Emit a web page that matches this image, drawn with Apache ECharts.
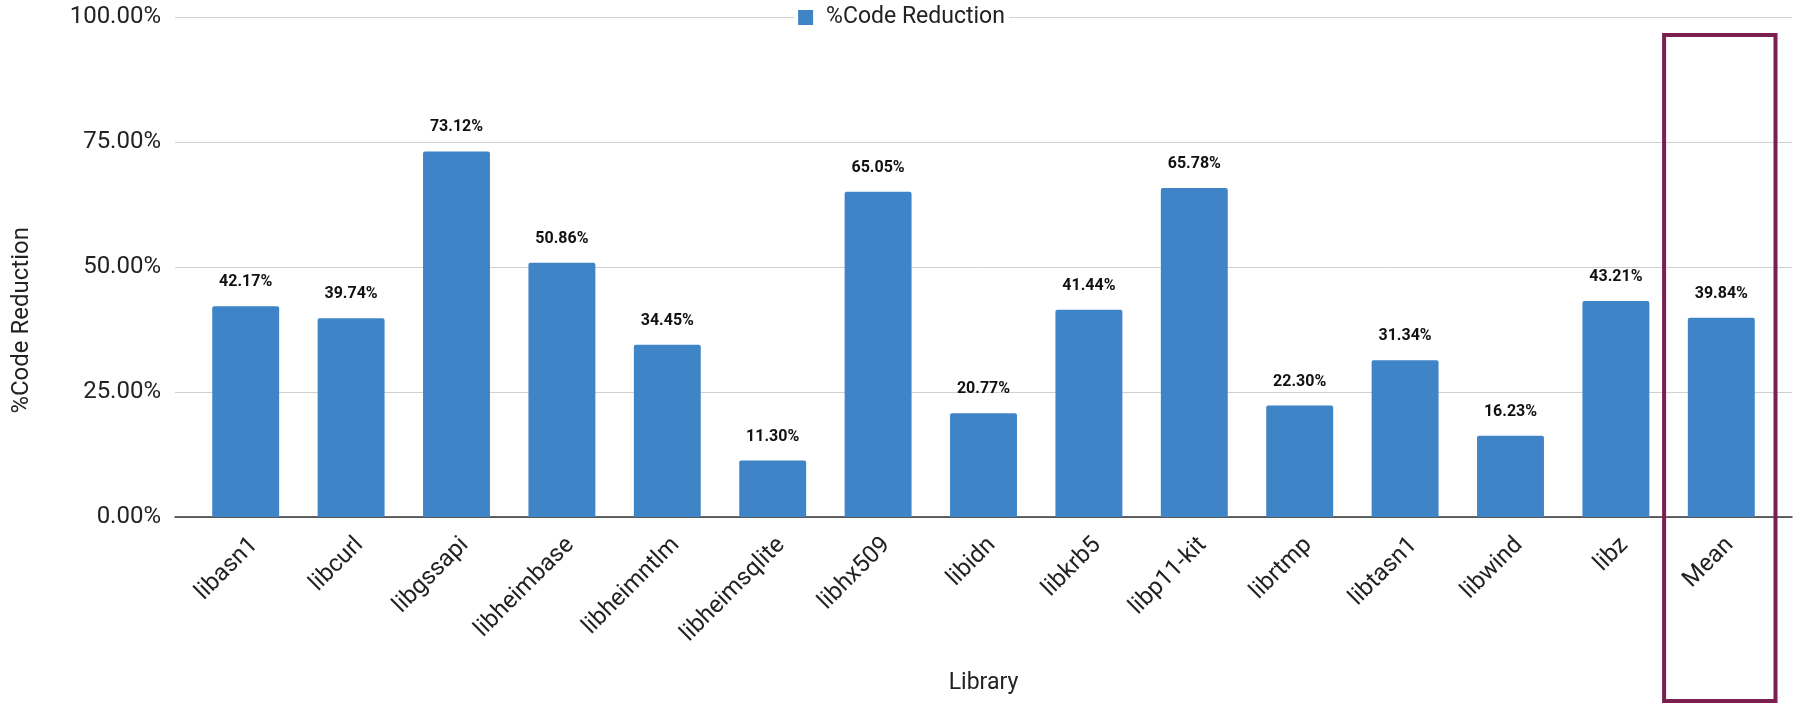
<!DOCTYPE html>
<html>
<head>
<meta charset="utf-8">
<script src="https://cdn.jsdelivr.net/npm/echarts@6/dist/echarts.min.js"></script>
<style>
html,body{margin:0;padding:0;background:#fff;}
#chart{width:1803px;height:705px;}
</style>
</head>
<body>
<div id="chart"></div>
<script>
var categories = ['libasn1','libcurl','libgssapi','libheimbase','libheimntlm','libheimsqlite','libhx509','libidn','libkrb5','libp11-kit','librtmp','libtasn1','libwind','libz','Mean'];
var codeReduction = [42.17, 39.74, 73.12, 50.86, 34.45, 11.30, 65.05, 20.77, 41.44, 65.78, 22.30, 31.34, 16.23, 43.21, 39.84];
var yTicks = [0, 25, 50, 75, 100];
var seriesName = '%Code Reduction';
var highlightCategory = 'Mean';

var FONT = 'Roboto, "Noto Sans", sans-serif';
var chart = echarts.init(document.getElementById('chart'));
var option = {
  animation: false,
  backgroundColor: '#fff',
  textStyle: { fontFamily: FONT },
  legend: {
    data: [seriesName],
    top: 6,
    left: 'center',
    icon: 'rect',
    itemWidth: 15,
    itemHeight: 15,
    backgroundColor: '#fff',
    padding: [0, 4, 0, 4],
    textStyle: { fontSize: 23, color: '#222', fontFamily: FONT, padding: [0, 0, 0, 8] }
  },
  grid: [
    { left: 175, right: 11, top: 17, bottom: 188, outerBoundsMode: 'none', containLabel: false },
    { left: 193, right: 29, top: 17, bottom: 188, outerBoundsMode: 'none', containLabel: false }
  ],
  xAxis: [
    {
      gridIndex: 0, type: 'value', min: 0, max: 1,
      axisLine: { show: true, onZero: false, lineStyle: { color: '#333', width: 1.5 } },
      axisTick: { show: false }, axisLabel: { show: false }, splitLine: { show: false }
    },
    {
      gridIndex: 1, type: 'category', data: categories,
      axisLine: { show: false }, axisTick: { show: false },
      axisLabel: { rotate: 45, fontSize: 24, color: '#222', margin: 16,
        align: 'right', verticalAlign: 'top',
        fontFamily: FONT, interval: 0 },
      name: 'Library', nameLocation: 'middle', nameGap: 155,
      nameTextStyle: { fontSize: 23, color: '#222', fontFamily: FONT }
    }
  ],
  yAxis: [
    {
      gridIndex: 0, type: 'value', min: yTicks[0], max: yTicks[yTicks.length - 1], interval: 25,
      axisLine: { show: false }, axisTick: { show: false },
      axisLabel: { fontSize: 24, color: '#222', margin: 14, fontFamily: FONT,
        formatter: function (v) { return v.toFixed(2) + '%'; } },
      splitLine: { lineStyle: { color: '#d0d0d0', width: 1 } }
    },
    {
      gridIndex: 1, type: 'value', min: yTicks[0], max: yTicks[yTicks.length - 1], show: false
    }
  ],
  series: [{
    name: seriesName,
    type: 'bar',
    xAxisIndex: 1, yAxisIndex: 1,
    data: codeReduction,
    barWidth: '63.5%',
    itemStyle: { color: '#3E84C6', borderRadius: [2, 2, 0, 0] },
    label: {
      show: true, position: 'top', distance: 16,
      fontSize: 16, fontWeight: 'bold', color: '#111', fontFamily: FONT,
      formatter: function (p) { return p.value.toFixed(2) + '%'; }
    }
  }]
};
chart.setOption(option);

var idx = categories.indexOf(highlightCategory);
var cx = chart.convertToPixel({ xAxisIndex: 1 }, idx);
var cx0 = chart.convertToPixel({ xAxisIndex: 1 }, 0);
var cx1 = chart.convertToPixel({ xAxisIndex: 1 }, 1);
var band = cx1 - cx0;
chart.setOption({
  graphic: [
    {
      type: 'text', left: 10, top: 227, rotation: Math.PI / 2,
      style: { text: '%Code Reduction', font: '24px ' + FONT, fill: '#222' }
    },
    {
      type: 'rect',
      shape: { x: cx - band / 2 - 4.5, y: 35, width: band + 6, height: 666 },
      style: { fill: 'none', stroke: '#7A1F4F', lineWidth: 4 },
      z: 100
    }
  ]
});
</script>
</body>
</html>
